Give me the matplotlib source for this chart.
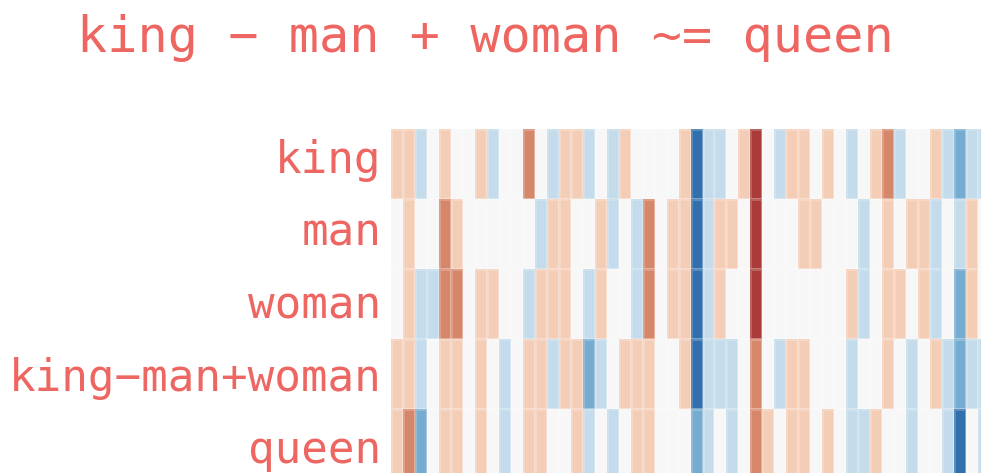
#!/usr/bin/env python3
import numpy as np
import matplotlib
matplotlib.use('Agg')
import matplotlib.pyplot as plt
from matplotlib.colors import ListedColormap, BoundaryNorm

title = 'king \u2212 man + woman ~= queen'
labels = ['king', 'man', 'woman', 'king\u2212man+woman', 'queen']

# levels, -3 (dark blue) to 3 (dark red)
king = [1, 1, -1, 0, 1, 0, 0, 1, -1, 0, 0, 2, 0, -1, 1, 1, -1, 0, -1, 1, 0, 0, 0, 0, 1,
        -3, -1, -1, 0, 1, 3, 0, -1, 1, 1, 0, 1, 0, -1, 0, 1, 2, -1, 0, 0, 1, -1, -2, -1, -1]
man = [0, 1, 0, 0, 2, 1, 0, 0, 0, 0, 0, 0, -1, 1, 1, 0, 0, 1, -1, 0, -1, 2, 0, 1, 1,
       -3, -1, 1, 1, 0, 3, 0, 0, 0, 1, 1, 0, 0, 0, -1, 0, 1, 0, 1, 1, -1, 0, -1, 1, 0]
woman = [0, 1, -1, -1, 2, 2, 0, 1, 1, 0, 0, -1, 1, 1, 1, 0, -1, 1, 0, 0, -1, 2, 0, 1, 1,
         -3, -1, 1, 0, 0, 3, 0, 0, 0, 0, 0, 0, 0, 1, -1, 0, 1, 1, 0, 1, -1, 0, -2, 1, 0]
king_man_woman = [1, 1, -1, 0, 1, 1, 0, 1, 0, -1, 0, 1, 1, -1, 1, 1, -2, -1, 0, 1, 1, 1, 0, 0, 1,
                  -3, -1, -1, -1, 0, 2, 0, -1, 1, 1, 0, 0, 0, -1, 0, 0, 1, 0, -1, 0, 1, -1, -2, -1, -1]
queen = [1, 2, -2, 0, 1, 1, 0, 1, 0, -1, 0, 1, 1, 0, 0, 1, -1, 0, -1, 0, 1, 1, 0, 0, 0,
         -2, -1, 0, -1, 0, 2, 1, 0, 1, 1, 0, 1, 0, -1, -1, 1, 0, 0, -1, 0, 0, -1, -3, 0, -1]

colors = ['#3170ad', '#75accf', '#c3dbea', '#f7f7f7', '#f4cdb7', '#d6876a', '#ab3b38']
text_color = '#ee6662'

W, H = 981, 473
fig = plt.figure(figsize=(W / 100, H / 100), dpi=100)

# the heatmap runs off the right and bottom edges of the picture
left, top, cell_w, cell_h = 391.3, 129, 11.97, 70
ax = fig.add_axes([left / W, 1 - (top + 5 * cell_h) / H, 50 * cell_w / W, 5 * cell_h / H])

data = np.array([king, man, woman, king_man_woman, queen])
cmap = ListedColormap(colors)
norm = BoundaryNorm(np.arange(-3.5, 4.5), cmap.N)
ax.pcolormesh(data, cmap=cmap, norm=norm, edgecolors=(1, 1, 1, 0.2), linewidth=0.8)
ax.set_ylim(5, 0)
ax.set_xticks([])
# labels sit a little wider apart than the rows
ax.set_yticks(3.5 + (np.arange(5) - 3) * 72.5 / cell_h)
ax.set_yticklabels(labels, family='DejaVu Sans Mono', fontsize=31.85, color=text_color)
ax.tick_params(axis='y', length=0, pad=7)
for spine in ax.spines.values():
    spine.set_visible(False)

fig.text(485 / W, 1 - 38 / H, title, family='DejaVu Sans Mono', fontsize=36.15,
         color=text_color, ha='center', va='center')

fig.savefig('out.png', dpi=100)
plt.close()
